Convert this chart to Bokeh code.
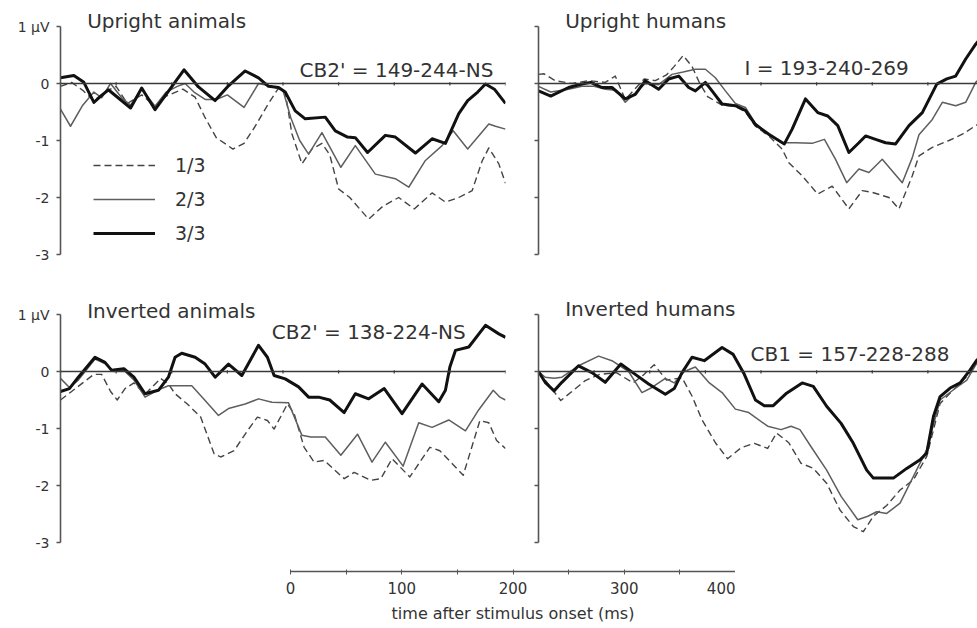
from bokeh.plotting import figure
from bokeh.models import Range1d, LinearAxis, FixedTicker, Span, Label, Legend, LegendItem
from bokeh.layouts import column, row
from bokeh.embed import file_html
from bokeh.resources import INLINE

# ---------------- data (time in ms, amplitude in microvolts) ----------------
# Upright animals
ua_t13 = [0, 10, 20, 30, 40, 50, 60, 73, 85, 95, 110, 121, 130, 140, 155, 165, 175, 187, 196, 202, 208, 217, 226, 235, 242, 250, 260, 277, 290, 304, 318, 334, 346, 358, 370, 379, 385, 394, 400]
ua_v13 = [-0.05, 0.02, -0.12, -0.3, -0.15, -0.05, -0.35, -0.2, -0.4, -0.22, -0.1, -0.24, -0.6, -0.95, -1.15, -1.05, -0.75, -0.35, -0.08, -0.15, -0.88, -1.41, -1.15, -1.05, -1.25, -1.85, -2.0, -2.38, -2.15, -2.0, -2.2, -1.92, -2.08, -2.0, -1.88, -1.36, -1.13, -1.41, -1.75]
ua_t23 = [0, 9, 20, 30, 37, 45, 55, 63, 73, 85, 95, 105, 112, 120, 130, 140, 150, 165, 178, 190, 200, 207, 215, 223, 235, 252, 265, 283, 301, 313, 328, 343, 353, 366, 385, 391, 400]
ua_v23 = [-0.45, -0.75, -0.38, -0.15, -0.25, 0.0, -0.25, -0.38, -0.1, -0.4, -0.15, -0.05, 0.0, -0.15, -0.28, -0.28, -0.2, -0.42, 0.0, -0.05, -0.12, -0.6, -1.0, -1.24, -0.86, -1.47, -1.09, -1.59, -1.67, -1.82, -1.35, -1.09, -0.83, -1.15, -0.71, -0.75, -0.8]
ua_t33 = [0, 12, 21, 30, 37, 43, 63, 73, 85, 111, 124, 139, 151, 166, 178, 187, 196, 202, 211, 220, 238, 247, 258, 265, 276, 292, 301, 319, 334, 346, 358, 366, 375, 382, 390, 400]
ua_v33 = [0.1, 0.14, 0.02, -0.33, -0.21, -0.11, -0.43, -0.08, -0.46, 0.24, -0.06, -0.3, -0.04, 0.22, 0.1, -0.05, -0.07, -0.15, -0.48, -0.62, -0.59, -0.83, -0.94, -0.95, -1.21, -0.91, -0.94, -1.22, -0.97, -1.05, -0.53, -0.3, -0.15, -0.01, -0.1, -0.35]

# Upright humans
uh_t13 = [0, 5, 15, 30, 45, 60, 69, 78, 95, 105, 115, 122, 130, 138, 145, 152, 165, 177, 186, 195, 207, 219, 225, 237, 251, 264, 279, 291, 300, 315, 324, 336, 342, 354, 369, 381, 393, 400]
uh_v13 = [0.16, 0.17, 0.05, 0.0, 0.05, 0.02, 0.13, -0.28, 0.08, 0.05, 0.15, 0.3, 0.49, 0.3, 0.0, -0.23, -0.38, -0.4, -0.5, -0.75, -0.92, -1.15, -1.39, -1.62, -1.94, -1.8, -2.2, -1.88, -1.91, -2.0, -2.2, -1.62, -1.27, -1.12, -1.0, -0.89, -0.74, -0.65]
uh_t23 = [0, 11, 27, 39, 50, 60, 70, 78, 88, 96, 108, 120, 130, 141, 150, 159, 168, 177, 186, 195, 207, 219, 231, 246, 257, 267, 277, 288, 297, 309, 327, 336, 342, 354, 363, 375, 384, 393, 400]
uh_v23 = [-0.05, -0.15, -0.1, -0.05, -0.05, -0.1, -0.12, -0.33, -0.15, 0.0, -0.02, 0.16, 0.2, 0.25, 0.25, 0.1, -0.13, -0.35, -0.42, -0.7, -0.9, -1.04, -1.04, -1.05, -0.98, -1.33, -1.74, -1.5, -1.56, -1.33, -1.74, -1.3, -0.9, -0.63, -0.33, -0.39, -0.33, 0.02, 0.15]
uh_t33 = [0, 11, 27, 39, 47, 57, 66, 78, 87, 96, 108, 117, 126, 135, 141, 150, 156, 165, 177, 186, 195, 207, 221, 228, 240, 251, 260, 269, 279, 288, 294, 303, 312, 321, 333, 345, 358, 367, 375, 384, 393, 400]
uh_v33 = [-0.13, -0.22, -0.07, -0.01, 0.02, -0.07, -0.07, -0.27, -0.19, 0.05, -0.1, 0.08, 0.13, -0.07, -0.13, 0.02, -0.13, -0.36, -0.39, -0.47, -0.72, -0.89, -1.06, -0.8, -0.27, -0.51, -0.57, -0.74, -1.21, -1.04, -0.92, -0.98, -1.04, -1.06, -0.74, -0.51, -0.01, 0.08, 0.13, 0.43, 0.69, 0.85]

# Inverted animals
ia_t13 = [0, 10, 20, 30, 37, 45, 51, 58, 66, 76, 90, 97, 103, 114, 126, 138, 144, 156, 168, 177, 186, 192, 204, 210, 219, 228, 237, 255, 264, 279, 288, 298, 314, 332, 341, 362, 377, 385, 392, 400]
ia_v13 = [-0.5, -0.35, -0.2, -0.05, -0.05, -0.35, -0.5, -0.3, -0.2, -0.4, -0.12, -0.22, -0.39, -0.57, -0.8, -1.44, -1.5, -1.39, -1.04, -0.8, -0.86, -1.01, -0.57, -0.74, -1.33, -1.59, -1.56, -1.88, -1.77, -1.91, -1.88, -1.53, -1.85, -1.33, -1.39, -1.82, -0.86, -0.9, -1.21, -1.35]
ia_t23 = [0, 8, 16, 31, 40, 48, 57, 66, 76, 88, 97, 118, 130, 142, 151, 166, 178, 190, 205, 217, 225, 238, 252, 267, 280, 292, 308, 322, 334, 349, 364, 376, 389, 395, 400]
ia_v23 = [-0.12, -0.28, -0.15, 0.22, 0.14, 0.0, 0.02, -0.15, -0.45, -0.32, -0.25, -0.25, -0.51, -0.77, -0.65, -0.57, -0.48, -0.54, -0.55, -1.12, -1.15, -1.15, -1.47, -1.1, -1.59, -1.24, -1.66, -0.9, -0.98, -0.85, -1.04, -0.67, -0.33, -0.45, -0.5]
ia_t33 = [0, 8, 16, 31, 40, 46, 57, 66, 76, 88, 97, 103, 109, 121, 130, 139, 151, 163, 178, 186, 192, 202, 214, 223, 232, 242, 255, 265, 277, 291, 307, 325, 340, 346, 350, 355, 367, 382, 394, 400]
ia_v33 = [-0.35, -0.3, -0.1, 0.25, 0.16, 0.02, 0.05, -0.1, -0.39, -0.33, -0.1, 0.25, 0.32, 0.25, 0.13, -0.1, 0.13, -0.07, 0.46, 0.25, -0.07, -0.13, -0.27, -0.45, -0.45, -0.5, -0.72, -0.39, -0.48, -0.3, -0.74, -0.22, -0.53, -0.33, 0.08, 0.37, 0.43, 0.81, 0.66, 0.6]

# Inverted humans
ih_t13 = [0, 8, 20, 30, 42, 55, 70, 85, 95, 104, 115, 129, 138, 147, 159, 170, 182, 194, 206, 214, 225, 236, 247, 259, 271, 283, 292, 301, 313, 325, 337, 349, 361, 373, 385, 394, 400]
ih_v13 = [0.0, -0.2, -0.51, -0.35, -0.16, -0.05, -0.02, -0.2, -0.05, 0.12, -0.15, -0.11, -0.43, -0.85, -1.25, -1.53, -1.34, -1.26, -1.35, -1.08, -1.25, -1.61, -1.7, -1.96, -2.43, -2.72, -2.81, -2.54, -2.35, -2.08, -1.9, -1.49, -0.56, -0.32, -0.09, 0.15, 0.3]
ih_t23 = [0, 6, 14, 21, 36, 54, 66, 81, 93, 102, 114, 122, 131, 141, 153, 165, 177, 189, 206, 218, 227, 235, 245, 259, 272, 287, 296, 304, 313, 325, 337, 349, 361, 373, 385, 394, 400]
ih_v23 = [0.0, -0.1, -0.12, -0.1, 0.1, 0.27, 0.19, 0.0, -0.37, -0.28, -0.12, -0.2, 0.0, 0.08, -0.19, -0.37, -0.66, -0.72, -0.96, -1.02, -0.96, -1.02, -1.32, -1.73, -2.19, -2.6, -2.54, -2.46, -2.49, -2.31, -1.84, -1.37, -0.5, -0.32, -0.15, 0.15, 0.3]
ih_t33 = [0, 6, 14, 21, 36, 48, 60, 74, 87, 99, 114, 122, 129, 138, 149, 165, 175, 185, 195, 203, 211, 223, 237, 247, 259, 272, 283, 295, 301, 319, 331, 343, 349, 355, 361, 370, 379, 388, 394, 400]
ih_v33 = [0.0, -0.19, -0.34, -0.19, 0.1, -0.02, -0.19, 0.13, -0.05, -0.22, -0.4, -0.3, -0.02, 0.25, 0.19, 0.42, 0.3, -0.05, -0.5, -0.6, -0.6, -0.38, -0.2, -0.26, -0.61, -0.91, -1.26, -1.73, -1.87, -1.87, -1.7, -1.55, -1.43, -0.79, -0.44, -0.29, -0.2, 0.03, 0.2, 0.3]

panel_titles = ["Upright animals", "Upright humans", "Inverted animals", "Inverted humans"]
panel_notes = ["CB2' = 149-244-NS", "I = 193-240-269", "CB2' = 138-224-NS", "CB1 = 157-228-288"]
legend_labels = ["1/3", "2/3", "3/3"]
y_ticks = [-3, -2, -1, 0, 1]
y_tick_labels = ["-3", "-2", "-1", "0", "1 µV"]
zero_ticks = [0, 50, 100, 150, 200, 250, 300, 350, 400]
time_ticks = [0, 100, 200, 300, 400]
time_minor = [50, 150, 250, 350]
time_label = "time after stimulus onset (ms)"

# ---------------- styling ----------------
FONT = "DejaVu Sans"
TXT = "#333333"
AX = "#555555"
STYLES = [
    dict(line_color="#444444", line_width=1.4, line_dash="7 4", line_join="round"),
    dict(line_color="#5e5e5e", line_width=1.5, line_join="round"),
    dict(line_color="#111111", line_width=3.0, line_join="round"),
]


def make_panel(series, width, left, right, height, ytop, ybot, xmax,
               labels, title, title_y, note, note_x, note_y, legend=False):
    p = figure(width=width, height=height, output_backend="svg", toolbar_location=None,
               x_range=Range1d(0, xmax), y_range=Range1d(ybot, ytop),
               x_axis_type=None, y_axis_type=None,
               min_border_left=left, min_border_right=right,
               min_border_top=0, min_border_bottom=0)
    p.outline_line_color = None
    p.background_fill_color = "white"
    p.border_fill_color = "white"

    if labels:
        overrides = {t: s for t, s in zip(y_ticks, y_tick_labels)}
    else:
        overrides = {t: "" for t in y_ticks}
    yax = LinearAxis(ticker=FixedTicker(ticks=y_ticks), bounds=(-3, 1),
                     major_label_overrides=overrides,
                     axis_line_color=AX, axis_line_width=1.6,
                     major_tick_line_color=AX, major_tick_line_width=1.3,
                     major_tick_in=0, major_tick_out=4,
                     minor_tick_line_color=None,
                     major_label_text_font=FONT, major_label_text_font_size="14px",
                     major_label_text_color=TXT, major_label_standoff=7)
    p.add_layout(yax, "left")

    p.add_layout(Span(location=0, dimension="width", line_color="#3a3a3a", line_width=1.3))
    p.segment(x0=zero_ticks, y0=[-0.035] * len(zero_ticks), x1=zero_ticks,
              y1=[0.02] * len(zero_ticks), line_color="#3a3a3a", line_width=1.2)

    rends = []
    for (t, v), st in zip(series, STYLES):
        rends.append(p.line(t, v, **st))

    p.add_layout(Label(x=24, y=title_y, text=title, text_font=FONT,
                       text_font_size="20px", text_color=TXT, text_baseline="middle"))
    p.add_layout(Label(x=note_x, y=note_y, text=note, text_font=FONT,
                       text_font_size="20px", text_color=TXT, text_baseline="middle",
                       text_align="center"))

    if legend:
        lg = Legend(items=[LegendItem(label=l, renderers=[r]) for l, r in zip(legend_labels, rends)],
                    location=(33, 44), glyph_width=62, glyph_height=20, label_height=20,
                    spacing=12, padding=0, margin=0, label_standoff=20,
                    border_line_color=None, background_fill_alpha=0,
                    label_text_font=FONT, label_text_font_size="19px", label_text_color=TXT)
        p.add_layout(lg)
    return p


PXMS = 1.1125
PXUV = 57.0
# upper row 288 px tall, zero 83 px below its top; lower row 272 px tall, zero 83 px below its top
u_top, u_bot = 83 / PXUV, -(288 - 83) / PXUV
l_top, l_bot = 83 / PXUV, -(272 - 83) / PXUV
right_xmax = 439 / PXMS

ul = make_panel([(ua_t13, ua_v13), (ua_t23, ua_v23), (ua_t33, ua_v33)], 515, 60, 10, 288,
                u_top, u_bot, 400, True, panel_titles[0], 1.09, panel_notes[0], 302, 0.23, legend=True)
ur = make_panel([(uh_t13, uh_v13), (uh_t23, uh_v23), (uh_t33, uh_v33)], 462, 23, 0, 288,
                u_top, u_bot, right_xmax, False, panel_titles[1], 1.09, panel_notes[1], 259, 0.27)
ll = make_panel([(ia_t13, ia_v13), (ia_t23, ia_v23), (ia_t33, ia_v33)], 515, 60, 10, 272,
                l_top, l_bot, 400, True, panel_titles[2], 1.07, panel_notes[2], 277, 0.69)
lr = make_panel([(ih_t13, ih_v13), (ih_t23, ih_v23), (ih_t33, ih_v33)], 462, 23, 0, 272,
                l_top, l_bot, right_xmax, False, panel_titles[3], 1.09, panel_notes[3], 280, 0.3)

# time scale bar below the panels: frame is 11 px tall, axis line on its bottom edge
pb = figure(width=735, height=68, output_backend="svg", toolbar_location=None,
            x_range=Range1d(0, 400), y_range=Range1d(0, 1),
            x_axis_type=None, y_axis_type=None,
            min_border_left=290, min_border_right=0, min_border_top=0, min_border_bottom=57)
pb.outline_line_color = None
xax = LinearAxis(ticker=FixedTicker(ticks=time_ticks, minor_ticks=time_minor),
                 axis_label=time_label,
                 axis_line_color=AX, axis_line_width=1.6,
                 major_tick_line_color=AX, major_tick_in=2, major_tick_out=3,
                 minor_tick_line_color=AX, minor_tick_in=2, minor_tick_out=3,
                 major_label_text_font=FONT, major_label_text_font_size="15px",
                 major_label_text_color=TXT, major_label_standoff=7,
                 axis_label_text_font=FONT, axis_label_text_font_size="16px",
                 axis_label_text_font_style="normal", axis_label_text_color=TXT,
                 axis_label_standoff=7)
pb.add_layout(xax, "below")

layout = column(row(ul, ur), row(ll, lr), pb)

with open("out.html", "w") as f:
    f.write(file_html(layout, INLINE, title="ERP amplitudes"))
